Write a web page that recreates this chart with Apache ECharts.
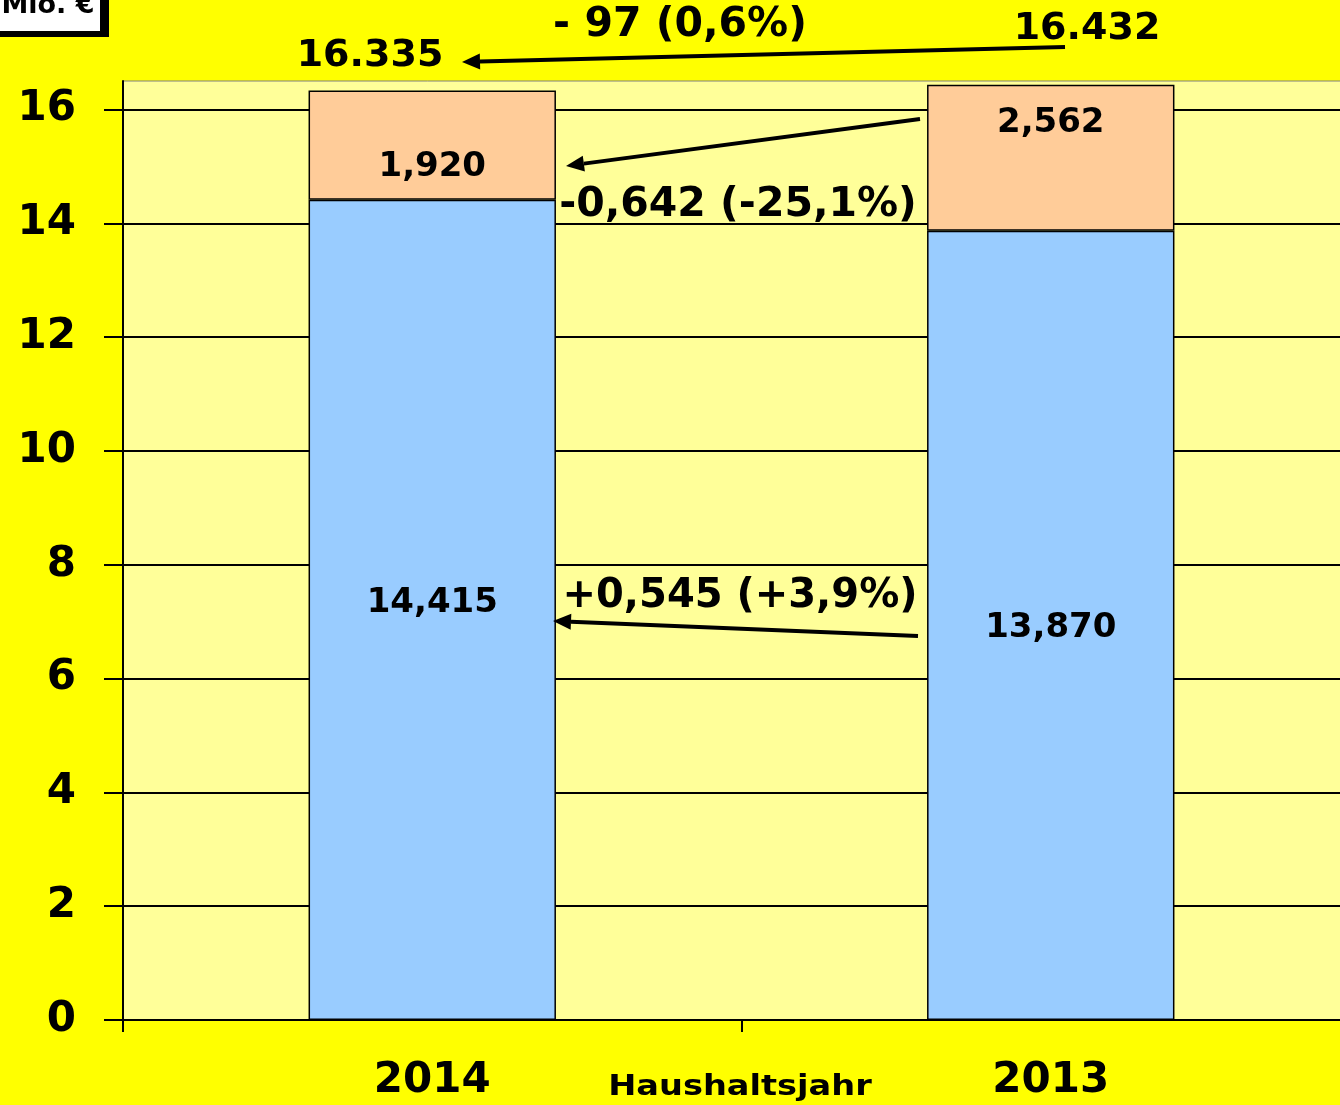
<!DOCTYPE html>
<html>
<head>
<meta charset="utf-8">
<script src="https://cdn.jsdelivr.net/npm/echarts@6/dist/echarts.min.js"></script>
<style>
  html, body { margin: 0; padding: 0; background: #ffff00; }
  #chart { width: 1340px; height: 1105px; }
</style>
</head>
<body>
<div id="chart"></div>
<script>
// Daten
const years = ['2014', '2013']
const basis = [14.415, 13.870]
const zusatz = [1.920, 2.562]
const yTicks = [0, 2, 4, 6, 8, 10, 12, 14, 16]

const FONT = 'DejaVu Sans, Verdana, sans-serif'
const fmt = v => v.toFixed(3).replace('.', ',')

// label offsets like in the original slide
const basisOffsets = [[0, -7], [0, 3]]
const zusatzOffsets = [[0, 22], [0, -35]]

function arrow(x1, y1, x2, y2) {
  // arrow head at (x2, y2)
  const ang = Math.atan2(y2 - y1, x2 - x1)
  const len = 18, w = 8
  const bx = x2 - Math.cos(ang) * len
  const by = y2 - Math.sin(ang) * len
  const px = -Math.sin(ang) * w
  const py = Math.cos(ang) * w
  return [
    {
      type: 'line',
      shape: { x1: x1, y1: y1, x2: bx, y2: by },
      style: { stroke: '#000', lineWidth: 4 },
      z: 100
    },
    {
      type: 'polygon',
      shape: { points: [[x2, y2], [bx + px, by + py], [bx - px, by - py]] },
      style: { fill: '#000' },
      z: 100
    }
  ]
}

function txt(x, y, text, size, sx) {
  return {
    type: 'text',
    x: x,
    y: y,
    scaleX: sx || 1,
    z: 100,
    style: {
      text: text,
      fill: '#000',
      font: 'bold ' + size + 'px ' + FONT,
      align: 'center',
      verticalAlign: 'middle'
    }
  }
}

const chart = echarts.init(document.getElementById('chart'))

chart.setOption({
  backgroundColor: '#ffff00',
  animation: false,
  grid: {
    left: 123,
    top: 81,
    bottom: 85,
    right: -20,
    outerBoundsMode: 'none',
    containLabel: false,
    show: true,
    backgroundColor: '#ffff99',
    borderColor: '#808080',
    borderWidth: 1
  },
  xAxis: {
    type: 'category',
    data: years,
    axisLine: { lineStyle: { color: '#000', width: 2 } },
    axisTick: { show: true, length: 12, lineStyle: { color: '#000', width: 2 } },
    axisLabel: { color: '#000', fontFamily: FONT, fontWeight: 'bold', fontSize: 42, margin: 40 }
  },
  yAxis: {
    type: 'value',
    min: 0,
    max: 16.5,
    interval: 2,
    axisLine: { show: true, lineStyle: { color: '#000', width: 2 } },
    axisTick: { show: true, length: 19, lineStyle: { color: '#000', width: 2 }, customValues: yTicks },
    axisLabel: {
      color: '#000', fontFamily: FONT, fontWeight: 'bold', fontSize: 42, margin: 47,
      padding: [10, 0, 0, 0],
      customValues: yTicks
    },
    splitLine: {
      show: true,
      lineStyle: {
        color: ['#000', '#000', '#000', '#000', '#000', '#000', '#000', '#000', '#000', '#808080'],
        width: 2
      }
    }
  },
  series: [
    {
      name: 'Basis',
      type: 'bar',
      stack: 'total',
      barWidth: '40%',
      itemStyle: { color: '#99ccff', borderColor: '#000', borderWidth: 1.5 },
      label: {
        show: true,
        position: 'inside',
        color: '#000',
        fontFamily: FONT,
        fontWeight: 'bold',
        fontSize: 34,
        formatter: p => fmt(p.value)
      },
      data: basis.map((v, i) => ({ value: v, label: { offset: basisOffsets[i] } }))
    },
    {
      name: 'Zusatz',
      type: 'bar',
      stack: 'total',
      barWidth: '40%',
      itemStyle: { color: '#ffcc99', borderColor: '#000', borderWidth: 1.5 },
      label: {
        show: true,
        position: 'inside',
        color: '#000',
        fontFamily: FONT,
        fontWeight: 'bold',
        fontSize: 34,
        formatter: p => fmt(p.value)
      },
      data: zusatz.map((v, i) => ({ value: v, label: { offset: zusatzOffsets[i] } }))
    }
  ],
  graphic: [
    {
      type: 'rect',
      shape: { x: -10, y: -10, width: 119, height: 47 },
      style: { fill: '#000' },
      z: 100
    },
    {
      type: 'rect',
      shape: { x: -10, y: -10, width: 110, height: 41 },
      style: { fill: '#fff' },
      z: 100
    },
    {
      type: 'text',
      x: 48,
      y: 6,
      z: 101,
      style: {
        text: 'Mio. €',
        fill: '#000',
        font: 'bold 27px ' + FONT,
        align: 'center',
        verticalAlign: 'middle'
      }
    },
    txt(740, 1088, 'Haushaltsjahr', 28, 1.2),
    txt(370, 56, '16.335', 38),
    txt(1087, 29, '16.432', 38),
    txt(680, 25, '- 97 (0,6%)', 41),
    txt(738, 205, '-0,642 (-25,1%)', 41),
    txt(740, 597, '+0,545 (+3,9%)', 40)
  ]
    .concat(arrow(1065, 47, 462, 62))
    .concat(arrow(920, 119, 566, 166))
    .concat(arrow(918, 636, 553, 621))
})
</script>
</body>
</html>
